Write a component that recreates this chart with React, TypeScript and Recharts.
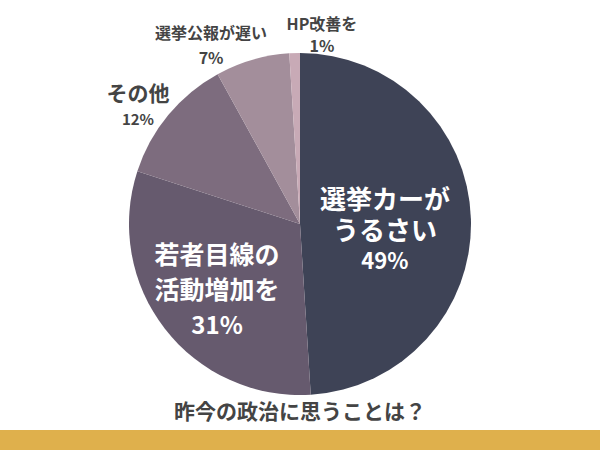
import { PieChart, Pie, Cell } from 'recharts'

// 昨今の政治に思うことは？ — survey answers, clockwise from 12 o'clock
const CATEGORIES = ['選挙カーが\nうるさい', '若者目線の\n活動増加を', 'その他', '選挙公報が遅い', 'HP改善を']
const VALUES = [49, 31, 12, 7, 1]
const COLORS = ['#3e4356', '#665a6e', '#7d6c7e', '#a38e9b', '#c8aab6']
const TITLE = '昨今の政治に思うことは？'

const data = CATEGORIES.map((name, i) => ({ name, value: VALUES[i] }))

// label placement per slice: distance from centre, angle nudge (deg), font sizes, line gap
type LabelStyle = { r: number; nudge: number; size: number; pctSize: number; gap: number; fill: string }
const LABEL_STYLE: LabelStyle[] = [
  { r: 85, nudge: -4.5, size: 26, pctSize: 22, gap: 31, fill: '#ffffff' },
  { r: 105, nudge: 0, size: 25, pctSize: 24, gap: 35, fill: '#ffffff' },
  { r: 201, nudge: 3.3, size: 21, pctSize: 15, gap: 26, fill: '#444444' },
  { r: 200, nudge: 10.2, size: 16, pctSize: 16, gap: 25, fill: '#444444' },
  { r: 191, nudge: -8.4, size: 16, pctSize: 16, gap: 22, fill: '#444444' },
]

const RADIAN = Math.PI / 180
const FONT = '"Noto Sans CJK JP", "Noto Sans", sans-serif'

type LabelProps = { cx: number; cy: number; midAngle: number; index: number; name: string; value: number }

function SliceLabel({ cx, cy, midAngle, index, name, value }: LabelProps) {
  const st = LABEL_STYLE[index]
  const a = (midAngle + st.nudge) * RADIAN
  const x = cx + st.r * Math.cos(-a)
  const y = cy + st.r * Math.sin(-a)
  const lines = [...String(name).split('\n'), `${value}%`]
  const top = y - (st.gap * (lines.length - 1)) / 2
  return (
    <text x={x} y={y} textAnchor="middle" fill={st.fill} fontFamily={FONT} fontWeight={700}>
      {lines.map((t, i) => (
        <tspan
          key={i}
          x={x}
          y={top + i * st.gap}
          dominantBaseline="central"
          fontSize={i === lines.length - 1 ? st.pctSize : st.size}
        >
          {t}
        </tspan>
      ))}
    </text>
  )
}

export default function App() {
  return (
    <div style={{ position: 'fixed', left: 0, top: 0, width: 600, height: 450, background: '#ffffff', overflow: 'hidden' }}>
      <PieChart width={600} height={450} margin={{ top: 0, right: 0, bottom: 0, left: 0 }}>
        <Pie
          data={data}
          dataKey="value"
          nameKey="name"
          cx={300}
          cy={224}
          outerRadius={171}
          startAngle={90}
          endAngle={-270}
          stroke="none"
          labelLine={false}
          label={(p: any) => <SliceLabel {...p} />}
          isAnimationActive={false}
        >
          {data.map((_, i) => (
            <Cell key={i} fill={COLORS[i]} />
          ))}
        </Pie>
      </PieChart>

      {/* question under the pie */}
      <div
        style={{
          position: 'absolute', left: 0, top: 396, width: 600, textAlign: 'center',
          fontFamily: FONT, fontWeight: 700, fontSize: 21, color: '#444444', lineHeight: '28px',
        }}
      >
        {TITLE}
      </div>

      {/* gold footer band */}
      <div style={{ position: 'absolute', left: 0, top: 430, width: 600, height: 20, background: '#dfb04c' }} />
    </div>
  )
}
